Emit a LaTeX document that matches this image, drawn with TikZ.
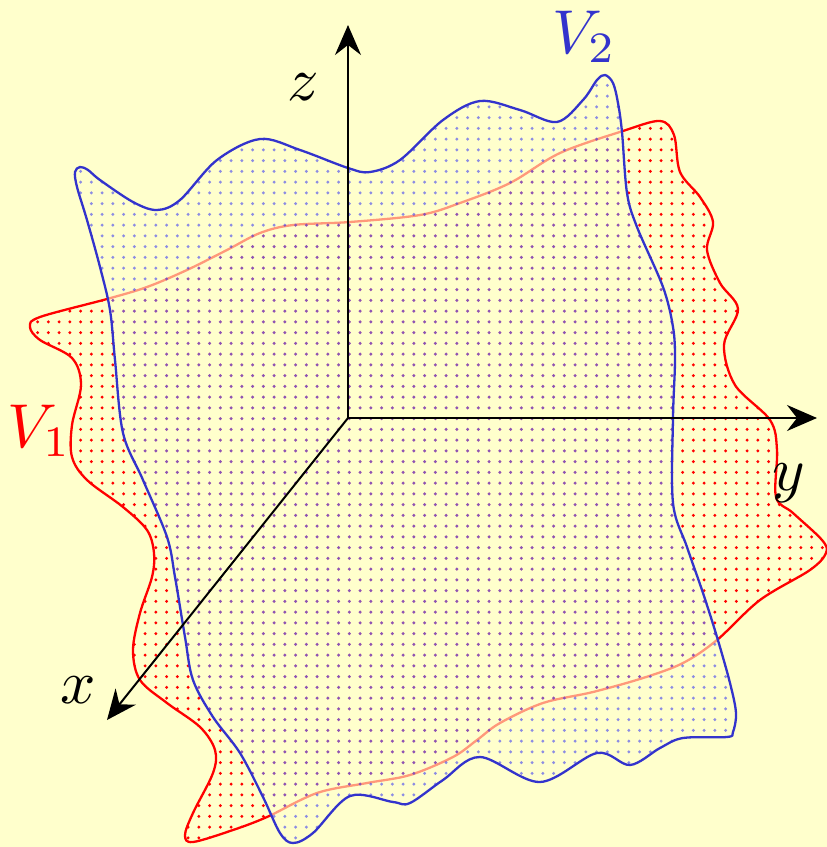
\documentclass[tikz,border=0pt]{standalone}
\usetikzlibrary{arrows.meta}
\definecolor{bgc}{HTML}{FFFFCC}
\definecolor{vblue}{HTML}{3333CC}
\tikzset{
  dotrow/.style={line width=3.3pt, line cap=round, dash pattern=on 0pt off 10.75pt},
  dotsred/.style={dotrow, draw=red},
  dotsblue/.style={dotrow, draw=blue, draw opacity=0.45},
  veil/.style={fill=bgc, opacity=0.6},
  redline/.style={draw=red, line width=2.3pt},
  blueline/.style={draw=vblue, line width=2.3pt},
  axis/.style={draw=black, line width=2pt, -{Stealth[length=30pt,width=26pt,inset=10pt]}},
  lbl/.style={inner sep=0pt, scale=6.2},
}
\def\redshape{plot[smooth cycle, tension=0.55] coordinates {
(107,299) (147,287) (187,270) (227,250) (260,233) (293,225) (350,222) (420,215) (460,203) (510,183) (560,153) (623,131) (660,121) (674,135) (680,172) (700,197) (713,222) (707,250) (720,283) (738,309) (724,345) (735,385) (770,420) (777,450) (776,497) (793,513) (822,540) (826,553) (810,570) (760,600) (717,640) (683,663) (643,678) (593,692) (543,703) (500,723) (477,740) (453,757) (410,775) (367,783) (317,793) (267,817) (233,830) (193,842) (185,835) (193,813) (213,773) (215,750) (200,727) (167,703) (140,680) (133,650) (140,613) (152,577) (154,553) (147,530) (123,507) (87,480) (72,457) (72,425) (81,385) (72,358) (40,340) (30,327) (40,317)
}}
\def\blueshape{plot[smooth cycle, tension=0.55] coordinates {
(77,187) (75,172) (80,167) (88,170) (100,180) (133,202) (157,210) (180,200) (217,160) (260,139) (300,150) (348,168) (370,172) (400,160) (443,120) (480,101) (520,110) (557,122) (583,100) (597,80) (605,75) (613,83) (618,103) (622,132) (627,193) (637,227) (663,287) (673,327) (675,360) (673,418) (673,503) (687,547) (703,593) (717,637) (730,683) (736,713) (733,732) (727,737) (683,738) (660,748) (630,765) (597,753) (540,782) (480,757) (443,780) (410,803) (393,802) (350,796) (313,833) (293,843) (280,833) (263,797) (240,753) (213,717) (193,680) (185,637) (175,577) (167,537) (143,480) (123,433) (115,360) (110,310) (100,267) (87,220)
}}
\begin{document}
\begin{tikzpicture}[x=1pt,y=-1pt]
\fill[bgc] (0,0) rectangle (827,847);
\useasboundingbox (0,0) rectangle (827,847);
% V1 dots
\begin{scope}
\clip \redshape;
\foreach \j in {10,...,79} {\draw[dotsred] (26.8, 10.1+10.75*\j) -- (834, 10.1+10.75*\j);}
\end{scope}
\path[redline] \redshape;
% V2
\path[veil] \blueshape;
\begin{scope}
\clip \blueshape;
\foreach \j in {5,...,79} {\draw[dotsblue] (69.8, 10.1+10.75*\j) -- (748, 10.1+10.75*\j);}
\end{scope}
\path[blueline] \blueshape;
% axes
\coordinate (O) at (348,418);
\coordinate (zend) at (348,25);
\coordinate (yend) at (817,418);
\coordinate (xend) at (107,720);
\draw[axis] (O) -- (zend);
\draw[axis] (O) -- (yend);
\draw[axis] (O) -- (xend);
% labels
\node[lbl, anchor=base] (zl) at (303,100) {$z$};
\node[lbl, anchor=base] (yl) at (789,490) {$y$};
\node[lbl, anchor=base] (xl) at (78,703) {$x$};
\node[lbl, anchor=base west, text=red] (v1) at (6,447) {$V_1$};
\node[lbl, anchor=base west, text=vblue] (v2) at (551,53) {$V_2$};
\end{tikzpicture}
\end{document}
